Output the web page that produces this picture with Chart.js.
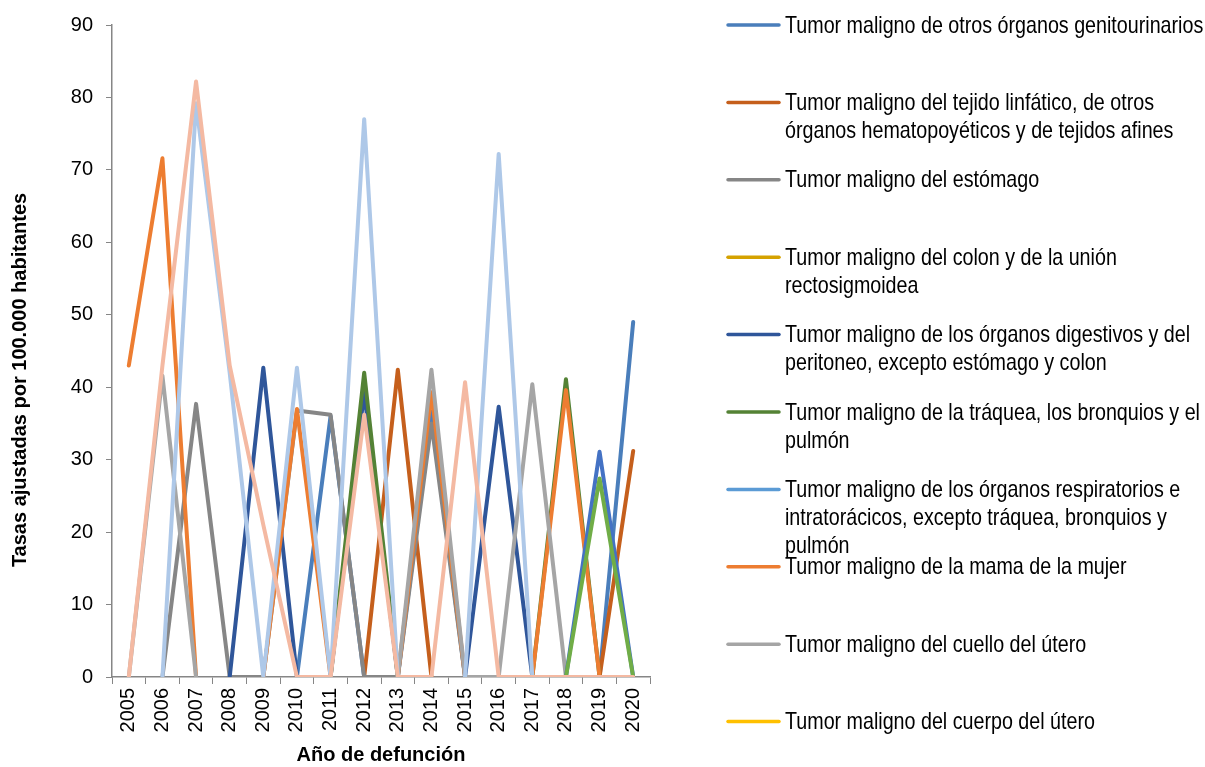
<!DOCTYPE html>
<html>
<head>
<meta charset="utf-8">
<script src="https://cdn.jsdelivr.net/npm/chart.js@4.4.1/dist/chart.umd.min.js"></script>
<style>
  html, body { margin: 0; padding: 0; background: #ffffff; }
  #wrap { width: 1205px; height: 767px; }
</style>
</head>
<body>
<div id="wrap"><canvas id="chartTumores" width="1205" height="767"></canvas></div>
<script>
const anios = ['2005', '2006', '2007', '2008', '2009', '2010', '2011', '2012', '2013', '2014', '2015', '2016', '2017', '2018', '2019', '2020'];
const ticksY = [0, 10, 20, 30, 40, 50, 60, 70, 80, 90];
const tituloY = 'Tasas ajustadas por 100.000 habitantes';
const tituloX = 'Año de defunción';

// tasas ajustadas por 100.000 habitantes, 2005-2020 (null = sin dato)
const genitourinarios = [null, null, null, null, null, 0, 36, 0, 0, 36.6, 0, null, null, null, 0, 49];
const linfatico       = [null, null, null, null, null, null, null, 0, 42.4, 0, null, null, null, null, 0, 31.2];
const estomago        = [null, 0, 37.7, 0, 0, 36.8, 36.2, 0, 0, 35, 0, null, null, null, null, null];
const colon           = [null, null, null, null, null, null, null, null, null, null, null, null, null, null, null, null];
const digestivos      = [null, null, null, 0, 42.7, 0, 0, 39.3, 0, null, 0, 37.3, 0, null, null, null];
const traquea         = [null, null, null, null, null, null, 0, 42, 0, null, null, null, 0, 41.1, 0, null];
const respiratorios   = [null, null, null, null, null, null, null, null, null, null, null, null, null, null, null, null];
const mama            = [43, 71.6, 0, null, 0, 37, 0, null, 0, 39.3, 0, null, 0, 39.6, 0, null];
const cuelloUtero     = [0, 41.6, 0, null, null, null, null, null, 0, 42.4, 0, 0, 40.4, 0, null, null];
const cuerpoUtero     = [null, null, null, null, null, null, null, null, null, null, null, null, null, null, null, null];
const serie11         = [null, null, null, null, null, null, null, null, null, null, null, null, null, 0, 31.1, 0];
const serie12         = [null, null, null, null, null, null, null, null, null, null, null, null, null, 0, 27.4, 0];
const serie13         = [null, 0, 79.2, 42, 0, 42.7, 0, 77, 0, null, 0, 72.2, 0, null, null, null];
const serie14         = [0, 43, 82.2, 43, 21, 0, 0, 36.2, 0, 0, 40.7, 0, 0, 0, 0, 0];

const series = [
  { label: 'Tumor maligno de otros órganos genitourinarios', data: genitourinarios, color: '#4a7ebb' },
  { label: 'Tumor maligno del tejido linfático, de otros órganos hematopoyéticos y de tejidos afines', data: linfatico, color: '#c55f1c' },
  { label: 'Tumor maligno del estómago', data: estomago, color: '#868686' },
  { label: 'Tumor maligno del colon y de la unión rectosigmoidea', data: colon, color: '#d5a200' },
  { label: 'Tumor maligno de los órganos digestivos y del peritoneo, excepto estómago y colon', data: digestivos, color: '#2f569a' },
  { label: 'Tumor maligno de la tráquea, los bronquios y el pulmón', data: traquea, color: '#548235' },
  { label: 'Tumor maligno de los órganos respiratorios e intratorácicos, excepto tráquea, bronquios y pulmón', data: respiratorios, color: '#5b9bd5' },
  { label: 'Tumor maligno de la mama de la mujer', data: mama, color: '#ed7d31' },
  { label: 'Tumor maligno del cuello del útero', data: cuelloUtero, color: '#a5a5a5' },
  { label: 'Tumor maligno del cuerpo del útero', data: cuerpoUtero, color: '#ffc000' },
  { label: '', data: serie11, color: '#4472c4' },
  { label: '', data: serie12, color: '#70ad47' },
  { label: '', data: serie13, color: '#aec8e8' },
  { label: '', data: serie14, color: '#f4b9a2' }
];

// fuente condensada si existe; si no, se comprime la normal
function fontWidth(family) {
  const c = document.createElement('canvas').getContext('2d');
  c.font = '40px ' + family;
  return c.measureText('Tumor maligno de otros órganos').width;
}
const hasNarrow = fontWidth('"Liberation Sans Narrow", monospace') !== fontWidth('monospace');
const narrowFamily = hasNarrow ? '"Liberation Sans Narrow", "Arial Narrow"' : '"Liberation Sans", Arial';
const narrowScale = hasNarrow ? 1 : 0.82;
const tituloFont = { family: '"Liberation Sans", Arial', size: 20, weight: 'bold' };

// título vertical, algo por debajo del centro del eje
const tituloYPlugin = {
  id: 'tituloY',
  afterDraw(chart) {
    const ctx = chart.ctx;
    ctx.save();
    ctx.translate(20, chart.chartArea.bottom - 297);
    ctx.rotate(-Math.PI / 2);
    ctx.font = 'bold 20px ' + tituloFont.family;
    ctx.textAlign = 'center';
    ctx.textBaseline = 'middle';
    ctx.fillStyle = '#000000';
    ctx.fillText(tituloY, 0, 0);
    ctx.restore();
  }
};

const leyendaPlugin = {
  id: 'leyendaDerecha',
  afterDraw(chart) {
    const ctx = chart.ctx;
    const x0 = chart.chartArea.right + 77;
    const slot = 77.4;
    const maxW = 422;
    ctx.save();
    ctx.font = '24px ' + narrowFamily;
    ctx.textBaseline = 'middle';
    ctx.fillStyle = '#000000';
    let i = 0;
    chart.data.datasets.forEach(ds => {
      if (!ds.label) return;
      const y = 25 + i * slot;
      ctx.strokeStyle = ds.borderColor;
      ctx.lineWidth = 3.5;
      ctx.lineCap = 'round';
      ctx.beginPath();
      ctx.moveTo(x0 + 1, y);
      ctx.lineTo(x0 + 52, y);
      ctx.stroke();

      // partir la etiqueta en renglones
      const words = ds.label.split(' ');
      const lines = [];
      let line = '';
      words.forEach(w => {
        const test = line ? line + ' ' + w : w;
        if (ctx.measureText(test).width * narrowScale > maxW && line) {
          lines.push(line);
          line = w;
        } else {
          line = test;
        }
      });
      lines.push(line);
      lines.forEach((t, k) => {
        ctx.save();
        ctx.translate(x0 + 58, y + 1 + k * 28);
        ctx.scale(narrowScale, 1);
        ctx.fillText(t, 0, 0);
        ctx.restore();
      });
      i++;
    });
    ctx.restore();
  }
};

const ctx = document.getElementById('chartTumores').getContext('2d');
const chartTumores = new Chart(ctx, {
  type: 'line',
  data: {
    labels: anios,
    datasets: series.map((s, i) => ({
      label: s.label,
      data: s.data,
      borderColor: s.color,
      backgroundColor: s.color,
      borderWidth: 4,
      pointRadius: 0,
      tension: 0,
      fill: false,
      spanGaps: false,
      borderJoinStyle: 'round',
      borderCapStyle: 'round',
      order: series.length - i
    }))
  },
  options: {
    responsive: false,
    animation: false,
    devicePixelRatio: 1,
    layout: { padding: { top: 20, right: 555, bottom: 0, left: 0 } },
    plugins: {
      legend: { display: false },
      tooltip: { enabled: false }
    },
    scales: {
      x: {
        type: 'category',
        offset: true,
        grid: { display: true, offset: true, drawOnChartArea: false, drawTicks: true, tickLength: 7, color: '#868686' },
        border: { color: '#868686', width: 1.5 },
        ticks: {
          autoSkip: false,
          minRotation: 90,
          maxRotation: 90,
          padding: 4,
          color: '#000000',
          font: { family: '"Liberation Sans", Arial', size: 20 }
        },
        title: {
          display: true,
          text: tituloX,
          color: '#000000',
          padding: 0,
          font: tituloFont
        },
        afterFit(scale) { scale.height = 90; }
      },
      y: {
        min: 0,
        max: 90,
        afterBuildTicks(scale) { scale.ticks = ticksY.map(v => ({ value: v })); },
        grid: { display: true, drawOnChartArea: false, drawTicks: true, tickLength: 6, color: '#868686' },
        border: { color: '#868686', width: 1.5 },
        ticks: {
          padding: 13,
          color: '#000000',
          font: { family: '"Liberation Sans", Arial', size: 20 }
        },
        title: { display: false },
        afterFit(scale) { scale.width = 112; }
      }
    }
  },
  plugins: [tituloYPlugin, leyendaPlugin]
});
</script>
</body>
</html>
